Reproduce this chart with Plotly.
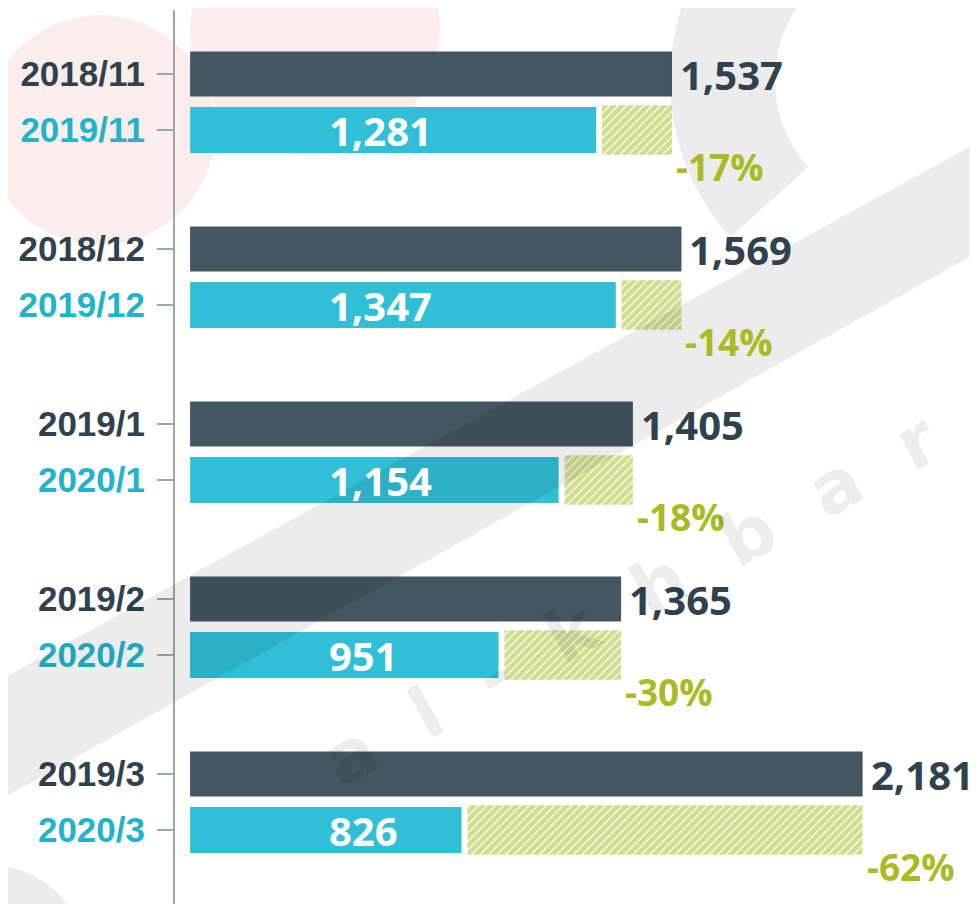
import math

import plotly.graph_objects as go

# months compared, last year vs this year
prev_labels = ["2018/11", "2018/12", "2019/1", "2019/2", "2019/3"]
curr_labels = ["2019/11", "2019/12", "2020/1", "2020/2", "2020/3"]
prev_values = [1537, 1569, 1405, 1365, 2181]
curr_values = [1281, 1347, 1154, 951, 826]
change_labels = ["-17%", "-14%", "-18%", "-30%", "-62%"]

DARK = "#44565f"
DARK_TEXT = "#2f424d"
CYAN = "#30bfd6"
CYAN_TEXT = "#22b3cc"
GREEN = "#a9ba22"
HATCH = "#a3bb1c"
AXIS = "#9aa9b0"

OFF = 8                  # page body margin, the figure sits 8px in
W, H = 978 - OFF, 904 - OFF
ML, MT = 175 - OFF, 10 - OFF
BAR_START = -91          # bars start a little right of the axis line
GAP = 20                 # space between cyan bar and hatch
GROUP_STEP = 3.125
ROW0, ROW_PX = 74 - OFF, 56

y_prev = [GROUP_STEP * i for i in range(len(prev_labels))]
y_curr = [y + 1 for y in y_prev]


def px(x, y):
    # screen pixel -> paper coordinates, for the watermark shapes
    return (x - OFF - ML) / (W - ML), 1 - (y - OFF - MT) / (H - MT)


def path_from(points):
    pts = [px(x, y) for x, y in points]
    return "M " + " L ".join(f"{a:.4f},{b:.4f}" for a, b in pts) + " Z"


def ring_arc(cx, cy, r_out, r_in, a0, a1, n=40):
    outer = [(cx + r_out * math.cos(math.radians(a0 + (a1 - a0) * k / n)),
              cy + r_out * math.sin(math.radians(a0 + (a1 - a0) * k / n))) for k in range(n + 1)]
    inner = [(cx + r_in * math.cos(math.radians(a1 - (a1 - a0) * k / n)),
              cy + r_in * math.sin(math.radians(a1 - (a1 - a0) * k / n))) for k in range(n + 1)]
    return path_from(outer + inner)


fig = go.Figure()

fig.add_trace(go.Bar(
    y=y_prev, x=[v - BAR_START for v in prev_values], base=BAR_START,
    orientation="h", width=0.8, marker=dict(color=DARK, line=dict(width=0)),
    hoverinfo="skip",
))
fig.add_trace(go.Bar(
    y=y_curr, x=[v - BAR_START for v in curr_values], base=BAR_START,
    orientation="h", width=0.82, marker=dict(color=CYAN, line=dict(width=0)),
    hoverinfo="skip",
))
fig.add_trace(go.Bar(
    y=y_curr, x=[p - c - GAP for p, c in zip(prev_values, curr_values)],
    base=[c + GAP for c in curr_values],
    orientation="h", width=0.88,
    marker=dict(color="rgba(0,0,0,0)", line=dict(width=0),
                pattern=dict(shape="/", fgcolor=HATCH, bgcolor="rgba(0,0,0,0)",
                             size=6, solidity=0.8, fillmode="overlay")),
    hoverinfo="skip",
))

val_font = dict(family="Open Sans", size=40, weight="bold")
annotations = []
for yp, yc, p, c, lab in zip(y_prev, y_curr, prev_values, curr_values, change_labels):
    annotations.append(dict(x=p, y=yp, text=f"{p:,}", showarrow=False, xanchor="left",
                            yanchor="middle", xshift=6, font=dict(val_font, color=DARK_TEXT)))
    annotations.append(dict(x=372, y=yc, text=f"{c:,}", showarrow=False, xanchor="left",
                            yanchor="middle", font=dict(val_font, color="white")))
    annotations.append(dict(x=p, y=yc, text=lab, showarrow=False, xanchor="left",
                            yanchor="middle", xshift=2, yshift=-36,
                            font=dict(val_font, size=37, color=GREEN)))

# faint al-khbar watermark
annotations.append(dict(xref="paper", yref="paper", x=px(630, 600)[0], y=px(630, 600)[1],
                        xanchor="center", yanchor="middle",
                        text="a  l  -  k  h  b  a  r", showarrow=False, textangle=-29,
                        font=dict(family="DejaVu Sans", size=72, weight="bold",
                                  color="rgba(0,0,0,0.07)")))

PINK = "rgba(225,50,50,0.09)"
GREY = "rgba(0,0,0,0.075)"
shapes = [
    dict(type="circle", xref="paper", yref="paper", layer="below",
         x0=px(-15, 0)[0], x1=px(215, 0)[0], y0=px(0, 245)[1], y1=px(0, 15)[1],
         fillcolor=PINK, line=dict(width=0)),
    dict(type="circle", xref="paper", yref="paper", layer="below",
         x0=px(190, 0)[0], x1=px(440, 0)[0], y0=px(0, 155)[1], y1=px(0, -95)[1],
         fillcolor=PINK, line=dict(width=0)),
    dict(type="path", xref="paper", yref="paper", layer="above",
         path=ring_arc(905, 80, 235, 130, 138, 232),
         fillcolor=GREY, line=dict(width=0)),
    dict(type="path", xref="paper", yref="paper", layer="above",
         path=path_from([(-20, 691), (1000, 130), (1000, 240), (-20, 811)]),
         fillcolor=GREY, line=dict(width=0)),
    dict(type="circle", xref="paper", yref="paper", layer="above",
         x0=px(-105, 0)[0], x1=px(85, 0)[0], y0=px(0, 1055)[1], y1=px(0, 865)[1],
         fillcolor=GREY, line=dict(width=0)),
]

ticktext = []
tickvals = []
for yp, yc, a, b in zip(y_prev, y_curr, prev_labels, curr_labels):
    tickvals += [yp, yc]
    ticktext += [f"<span style='color:{DARK_TEXT}'>{a}</span>",
                 f"<span style='color:{CYAN_TEXT}'>{b}</span>"]

fig.update_layout(
    width=W, height=H,
    margin=dict(l=ML, r=0, t=MT, b=0, pad=0),
    paper_bgcolor="white", plot_bgcolor="rgba(0,0,0,0)",
    showlegend=False, barmode="overlay",
    annotations=annotations, shapes=shapes,
    xaxis=dict(range=[-142, -142 + (W - ML) / 0.296], visible=False, fixedrange=True),
    yaxis=dict(
        range=[(H - ROW0) / ROW_PX, (MT - ROW0) / ROW_PX],
        tickvals=tickvals, ticktext=ticktext,
        showline=True, linecolor=AXIS, linewidth=2,
        ticks="outside", ticklen=16, tickwidth=2, tickcolor=AXIS,
        ticklabelstandoff=5, showgrid=False, zeroline=False,
        tickfont=dict(family="Liberation Sans", size=35, weight="bold"),
        fixedrange=True,
    ),
)

fig.write_html("out.html")
